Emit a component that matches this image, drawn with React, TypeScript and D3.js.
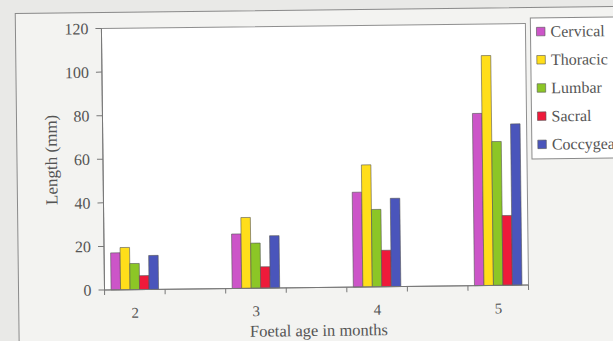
import React from "react";
import * as d3 from "d3";

const categories = ["2", "", "3", "", "4", "", "5"];
const seriesNames = ["Cervical", "Thoracic", "Lumbar", "Sacral", "Coccygeal"];
const seriesColors = ["#cc55c8", "#ffde1a", "#8cc626", "#ee1a3a", "#4a55bb"];
const cervical = [17, null, 25, null, 43.5, null, 79];
const thoracic = [19.4, null, 32.5, null, 56, null, 105.5];
const lumbar = [12, null, 20.7, null, 35.5, null, 66];
const sacral = [6.4, null, 9.8, null, 16.7, null, 32];
const coccygeal = [15.6, null, 24, null, 40.5, null, 74];
const yTicks = [0, 20, 40, 60, 80, 100, 120];

const values = [cervical, thoracic, lumbar, sacral, coccygeal];

export default function App() {
  const W = 613, H = 341;
  const left = 103, right = 527, top = 26, bottom = 287.5;
  const x = d3.scaleBand<string>().domain(categories.map((_, i) => String(i))).range([left, right]).paddingInner(0).paddingOuter(0);
  const y = d3.scaleLinear().domain([0, 120]).range([bottom, top]);
  const barW = 9.5;
  const inner = d3.scaleBand<string>().domain(seriesNames).range([0, barW * 5]);
  const font = "Liberation Serif";
  const txt = "#555";
  return (
    <svg width={W} height={H} style={{ position: "absolute", left: 0, top: 0, background: "#e9e9e7" }}>
      <g transform="rotate(-0.68 315 160)" style={{ fontFamily: font }}>
        <rect x={17} y={10} width={640} height={360} fill="#f3f3f1" stroke="#8a8a8a" strokeWidth={1} />
        <rect x={left} y={top} width={right - left} height={bottom - top} fill="#ffffff" stroke="#8f8f8f" strokeWidth={1} />
        {yTicks.map((t) => (
          <g key={t}>
            <line x1={left - 6} x2={left} y1={y(t)} y2={y(t)} stroke="#777" />
            <text x={left - 13} y={y(t)} dy="0.35em" textAnchor="end" fontSize={16} fill={txt}>{t}</text>
          </g>
        ))}
        {categories.map((c, i) => (
          <g key={i}>
            <line x1={x(String(i))!} x2={x(String(i))!} y1={bottom} y2={bottom + 5} stroke="#777" />
            {c && (
              <text x={x(String(i))! + x.bandwidth() / 2} y={bottom + 28} textAnchor="middle" fontSize={15} fill={txt}>{c}</text>
            )}
          </g>
        ))}
        <line x1={right} x2={right} y1={bottom} y2={bottom + 5} stroke="#777" />
        {values.map((s, si) =>
          s.map((v, i) =>
            v == null ? null : (
              <rect
                key={si + "-" + i}
                x={x(String(i))! + (x.bandwidth() - barW * 5) / 2 + inner(seriesNames[si])!}
                y={y(v)}
                width={inner.bandwidth()}
                height={bottom - y(v)}
                fill={seriesColors[si]}
                stroke="#555"
                strokeWidth={0.6}
              />
            )
          )
        )}
        <line x1={left} x2={right} y1={bottom} y2={bottom} stroke="#777" />
        <line x1={left} x2={left} y1={top} y2={bottom} stroke="#777" />
        <text x={317} y={bottom + 48.5} textAnchor="middle" fontSize={16.5} fill={txt}>Foetal age in months</text>
        <text transform={`translate(57, ${(top + bottom) / 2}) rotate(-90)`} textAnchor="middle" fontSize={17} fill={txt}>Length (mm)</text>
        <rect x={532} y={20.5} width={120} height={141} fill="#ffffff" stroke="#8a8a8a" strokeWidth={1} />
        {seriesNames.map((n, i) => (
          <g key={n}>
            <rect x={538} y={30 + i * 28.2} width={8.5} height={8.5} fill={seriesColors[i]} stroke="#555" strokeWidth={0.6} />
            <text x={552} y={34 + i * 28.2} dy="0.35em" fontSize={16} fill={txt}>{n}</text>
          </g>
        ))}
      </g>
    </svg>
  );
}
